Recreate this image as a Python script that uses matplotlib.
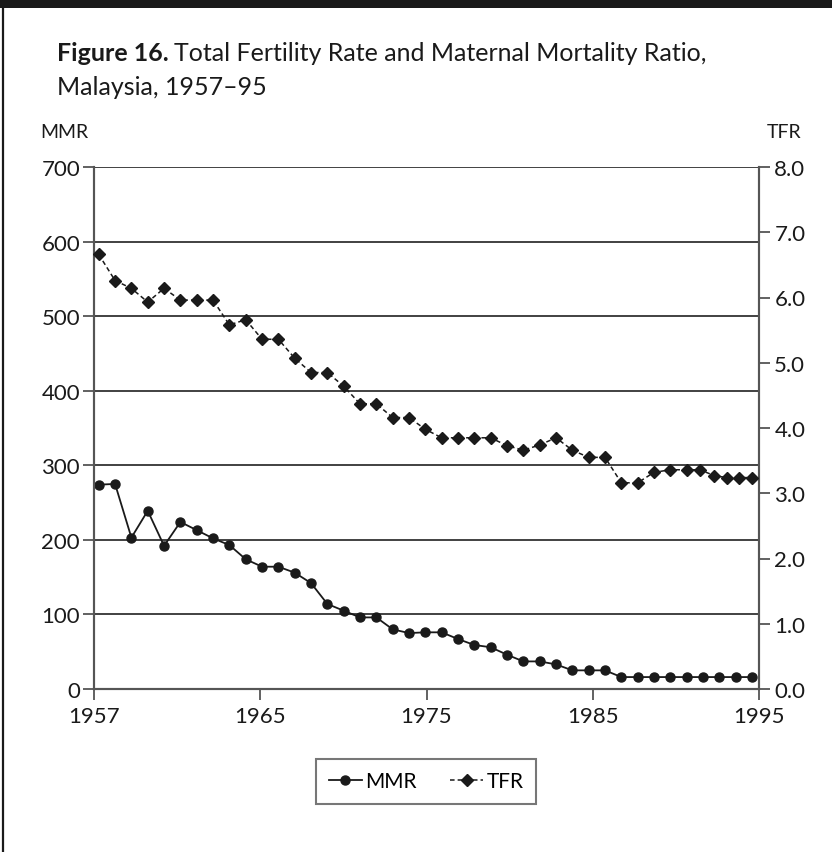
import matplotlib

matplotlib.use("Agg")
import matplotlib.pyplot as plt
import numpy as np
from matplotlib.lines import Line2D

plt.rcParams["font.family"] = ["Lato", "DejaVu Sans"]

# values (category slots, not calendar years)
mmr = [274, 275, 203, 239, 192, 224, 213, 202, 193, 174,
       164, 164, 156, 142, 114, 105, 96, 96, 80, 75,
       76, 76, 67, 59, 56, 46, 37, 37, 33, 25,
       25, 25, 16, 16, 16, 16, 16, 16, 16, 16, 16]
tfr = [6.66, 6.26, 6.14, 5.93, 6.14, 5.96, 5.96, 5.96, 5.58, 5.66,
       5.36, 5.36, 5.07, 4.85, 4.85, 4.64, 4.37, 4.37, 4.16, 4.16,
       3.98, 3.85, 3.85, 3.85, 3.85, 3.73, 3.66, 3.74, 3.85, 3.66,
       3.55, 3.55, 3.16, 3.16, 3.32, 3.36, 3.36, 3.36, 3.27, 3.24,
       3.24, 3.24]
# the last TFR points are squeezed together in the original
tfr_slots = list(range(37)) + [36.8, 37.7, 38.45, 39.2, 40.0]
year_labels = ["1957", "1965", "1975", "1985", "1995"]
mmr_ticks = [0, 100, 200, 300, 400, 500, 600, 700]
tfr_ticks = [0, 1, 2, 3, 4, 5, 6, 7, 8]

INK = "#1a1a1a"
AXIS = "#555555"

fig = plt.figure(figsize=(8.32, 8.53), dpi=100)

# page frame: heavy bar on top, thin rule down the left
fig.add_artist(plt.Rectangle((0, 1 - 9 / 853), 1, 9 / 853, transform=fig.transFigure,
                             color=INK, lw=0))
fig.add_artist(Line2D([3 / 832, 3 / 832], [0, 1], transform=fig.transFigure,
                      color=INK, lw=1.6))

ax = fig.add_axes([94 / 832, 1 - 690 / 853, 665 / 832, 522 / 853])
ax2 = ax.twinx()

x_lo, x_hi = -0.29, 40.43
ax.set_xlim(x_lo, x_hi)
ax.set_ylim(0, 700)
ax2.set_ylim(0, 8)

ax.set_yticks(mmr_ticks)
ax.set_yticklabels([str(v) for v in mmr_ticks])
ax2.set_yticks(tfr_ticks)
ax2.set_yticklabels([f"{v:.1f}" for v in tfr_ticks])
ax.set_xticks(np.linspace(x_lo, x_hi, len(year_labels)))
ax.set_xticklabels(year_labels)

for a in (ax, ax2):
    a.spines["top"].set_visible(False)
    for s in ("left", "right", "bottom"):
        a.spines[s].set_color(AXIS)
        a.spines[s].set_linewidth(1.5)
    a.tick_params(direction="out", length=8, width=1.3, color=AXIS,
                  labelsize=16, labelcolor=INK, pad=2)
ax.tick_params(axis="x", pad=4)
ax2.tick_params(axis="y", pad=3)

ax.yaxis.grid(True, color="#333333", lw=1.3)
ax.set_axisbelow(True)

ax.plot(range(len(mmr)), mmr, color=INK, lw=1.3, marker="o", ms=6.5,
        clip_on=False, zorder=3)
ax2.plot(tfr_slots, tfr, color=INK, lw=1.1, ls=(0, (3, 2)), marker="D", ms=6.5,
         clip_on=False, zorder=3)

# title, bold figure number followed by plain text
fig.canvas.draw()
r = fig.canvas.get_renderer()
t = fig.text(57 / 832, 1 - 61 / 853, "Figure 16.", fontsize=18, fontweight="bold",
             color=INK)
bb = t.get_window_extent(renderer=r)
fig.text(bb.x1 / fig.bbox.width + 5 / 832, 1 - 61 / 853,
         "Total Fertility Rate and Maternal Mortality Ratio,", fontsize=18, color=INK)
fig.text(57 / 832, 1 - 95 / 853, "Malaysia, 1957–95", fontsize=18, color=INK)

fig.text(40 / 832, 1 - 138 / 853, "MMR", fontsize=14, color=INK)
fig.text(801 / 832, 1 - 138 / 853, "TFR", fontsize=14, color=INK, ha="right")

handles = [
    Line2D([], [], color=INK, lw=1.3, marker="o", ms=6.5, label="MMR"),
    Line2D([], [], color=INK, lw=1.1, ls=(0, (3, 2)), marker="D", ms=6.5, label="TFR"),
]
leg = fig.legend(handles=handles, loc="center", ncol=2,
                 bbox_to_anchor=(426 / 832, 1 - 782 / 853), frameon=True,
                 fancybox=False, fontsize=15, handlelength=1.6, handletextpad=0.15,
                 columnspacing=1.6, borderpad=0.6, borderaxespad=0)
leg.get_frame().set_edgecolor(AXIS)
leg.get_frame().set_linewidth(1.5)

fig.savefig("out.png", dpi=100)
